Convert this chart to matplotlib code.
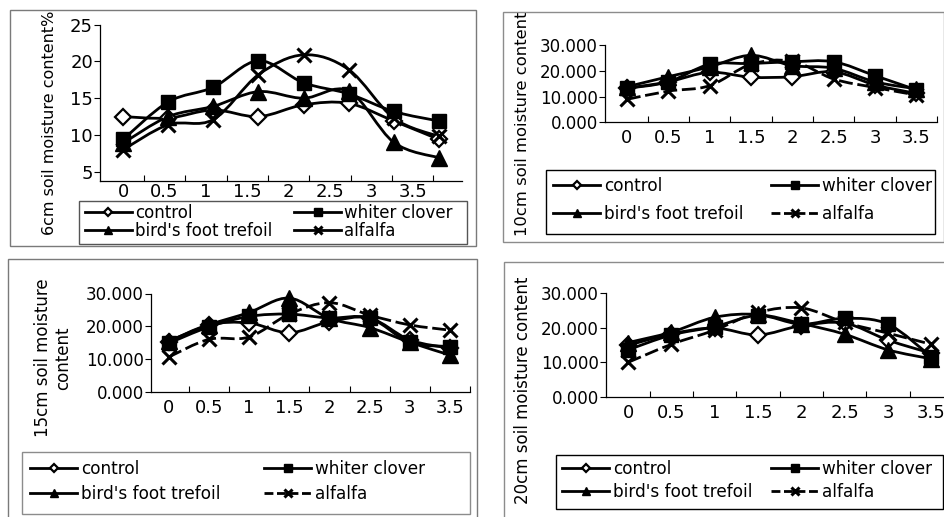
import numpy as np
import matplotlib
matplotlib.use('Agg')
import matplotlib.pyplot as plt
from matplotlib.path import Path
from matplotlib.patches import PathPatch, Rectangle
from matplotlib.lines import Line2D

plt.rcParams['font.family'] = ['DejaVu Sans']

W, H = 945, 517

# ---- data ----
x_labels = ['0', '0.5', '1', '1.5', '2', '2.5', '3', '3.5']
names = ['control', 'whiter clover', "bird's foot trefoil", 'alfalfa']

cm6_control = [12.5, 12.3, 13.4, 12.5, 14.1, 14.3, 11.9, 9.4]
cm6_clover = [9.4, 14.5, 16.5, 20.1, 17.1, 15.6, 13.2, 11.9]
cm6_trefoil = [8.9, 12.5, 13.9, 15.9, 15.0, 16.0, 9.0, 6.9]
cm6_alfalfa = [8.0, 11.4, 12.1, 18.2, 20.9, 18.9, 12.3, 9.8]

cm10_control = [13.2, 15.7, 19.4, 17.5, 17.7, 19.6, 14.5, 11.2]
cm10_clover = [13.2, 15.7, 22.5, 22.8, 23.5, 23.5, 18.1, 12.6]
cm10_trefoil = [13.8, 17.7, 21.5, 26.0, 22.0, 21.0, 15.7, 13.0]
cm10_alfalfa = [8.9, 12.1, 14.2, 22.5, 23.7, 16.8, 13.5, 10.6]

cm15_control = [15.3, 20.4, 21.0, 18.0, 21.4, 22.5, 15.8, 13.3]
cm15_clover = [14.8, 19.8, 23.0, 23.7, 22.5, 22.5, 15.1, 13.8]
cm15_trefoil = [15.5, 20.4, 24.2, 28.6, 22.4, 19.6, 15.1, 11.2]
cm15_alfalfa = [10.6, 16.0, 16.7, 23.7, 27.2, 23.4, 20.4, 18.8]

cm20_control = [14.9, 18.2, 19.9, 17.9, 20.6, 21.3, 16.4, 12.6]
cm20_clover = [13.6, 17.9, 20.3, 23.5, 21.0, 22.7, 21.0, 11.6]
cm20_trefoil = [15.7, 18.7, 23.0, 23.8, 21.2, 18.1, 13.6, 11.0]
cm20_alfalfa = [10.0, 15.2, 19.3, 24.4, 25.7, 21.5, 18.4, 15.2]


def fx(px):
    return px / W


def fy(py):
    return 1 - py / H


def frect(x0, y0, x1, y1):
    return [fx(x0), fy(y1), (x1 - x0) / W, (y1 - y0) / H]


def box(x0, y0, x1, y1, ec):
    fig.add_artist(Rectangle((fx(x0), fy(y1)), (x1 - x0) / W, (y1 - y0) / H,
                             transform=fig.transFigure, fill=False,
                             edgecolor=ec, linewidth=1.0, zorder=20))


def smooth_path(xs, ys):
    # excel style smoothed line: catmull-rom turned into bezier segments
    n = len(xs)
    verts = [(xs[0], ys[0])]
    codes = [Path.MOVETO]
    for i in range(n - 1):
        a = max(i - 1, 0)
        b = min(i + 2, n - 1)
        c1 = (xs[i] + (xs[i + 1] - xs[a]) / 6, ys[i] + (ys[i + 1] - ys[a]) / 6)
        c2 = (xs[i + 1] - (xs[b] - xs[i]) / 6, ys[i + 1] - (ys[b] - ys[i]) / 6)
        verts += [c1, c2, (xs[i + 1], ys[i + 1])]
        codes += [Path.CURVE4] * 3
    return Path(verts, codes)


marker_styles = [
    dict(marker='D', markerfacecolor='white', markeredgecolor='black', markersize=8, markeredgewidth=1.6),
    dict(marker='s', markerfacecolor='black', markeredgecolor='black', markersize=10),
    dict(marker='^', markerfacecolor='black', markeredgecolor='black', markersize=11),
    dict(marker='x', markeredgecolor='black', markersize=10, markeredgewidth=2.2),
]

fig = plt.figure(figsize=(W / 100, H / 100), dpi=100)


def panel(series, rect, ylim, yticks, yfmt, xlim, xscale, dashed, ytick_fs, xpad,
          ylabel, ylab_fs, ylab_xy, leg_x, leg_rows, leg_fs, leg_frame, leg_ec,
          outer_box, outer_ec):
    box(*outer_box, outer_ec)
    ax = fig.add_axes(rect)
    ax.set_facecolor('none')
    idx = np.arange(len(x_labels))
    xs = idx * xscale
    lw = 2.0
    alf_ls = (0, (5, 1.7)) if dashed else '-'
    handles = []
    for k, ys in enumerate(series):
        ls = alf_ls if k == 3 else '-'
        ax.add_patch(PathPatch(smooth_path(xs, ys), fill=False, edgecolor='black',
                               linewidth=lw, linestyle=ls, zorder=2 + k))
        ax.plot(xs, ys, linestyle='none', zorder=6 + k, clip_on=False, **marker_styles[k])
        hls = (0, (3.2, 1.3)) if (k == 3 and dashed) else '-'
        handles.append(Line2D([], [], color='black', linewidth=lw, linestyle=hls, **marker_styles[k]))

    ax.set_xlim(*xlim)
    ax.set_ylim(*ylim)
    ax.set_yticks(yticks)
    ax.set_yticklabels([yfmt.format(v) for v in yticks])
    ax.set_xticks(idx)
    ax.set_xticklabels(x_labels)
    ax.set_xticks(idx + 0.5, minor=True)
    ax.tick_params(axis='x', which='major', length=0, pad=xpad, labelsize=13)
    ax.tick_params(axis='x', which='minor', direction='in', length=4, width=0.8)
    ax.tick_params(axis='y', direction='out', length=4, width=0.8, pad=1, labelsize=ytick_fs)
    for s in ['top', 'right']:
        ax.spines[s].set_visible(False)
    for s in ['left', 'bottom']:
        ax.spines[s].set_linewidth(0.9)

    fig.text(fx(ylab_xy[0]), fy(ylab_xy[1]), ylabel, rotation=90, ha='center',
             va='center', fontsize=ylab_fs, multialignment='center', linespacing=1.15)

    # legend: frame drawn on its own, entries spread between leg_x[0] and leg_x[1]
    box(*leg_frame, leg_ec)
    r0, r1 = leg_rows
    fs_px = leg_fs * 100 / 72
    text_h = 1.17 * fs_px
    spacing = max((r1 - r0) - text_h, 0) / fs_px
    yc = (r0 + r1) / 2
    hh = (r1 - r0) + text_h
    order = [0, 2, 1, 3]
    ax.legend([handles[i] for i in order], [names[i] for i in order], ncol=2,
              mode='expand', loc='center',
              bbox_to_anchor=(fx(leg_x[0]), fy(yc + hh / 2), (leg_x[1] - leg_x[0]) / W, hh / H),
              bbox_transform=fig.transFigure, frameon=False, borderaxespad=0,
              borderpad=0, markerscale=0.55, fontsize=leg_fs, handlelength=2.8,
              handletextpad=0.2, labelspacing=spacing)
    return ax


# 6 cm
panel([cm6_control, cm6_clover, cm6_trefoil, cm6_alfalfa],
      frect(100, 24.7, 462, 180.7), (3.78, 25), [5, 10, 15, 20, 25], '{:d}',
      (-0.56, 8.19), 1.09, False, 13, 1.5,
      '6cm soil moisture content%', 11.5, (50, 123),
      (85, 453), (212, 232), 12, (79, 201, 467, 244), '#555555',
      (10, 10, 476, 246), '#7a7a7a')

# 10 cm
panel([cm10_control, cm10_clover, cm10_trefoil, cm10_alfalfa],
      frect(605, 45, 937, 122.3), (0, 30), [0, 10, 20, 30], '{:.3f}',
      (-0.53, 7.45), 1.0, True, 12, 5,
      '10cm soil moisture content', 11.8, (523, 124),
      (553, 932), (185, 215), 12.2, (546, 170, 935, 234), 'black',
      (503, 12, 944, 242), '#8c8c8c')

# 15 cm
panel([cm15_control, cm15_clover, cm15_trefoil, cm15_alfalfa],
      frect(150.7, 293.5, 470, 391.7), (0, 30), [0, 10, 20, 30], '{:.3f}',
      (-0.45, 7.45), 1.0, True, 12, 5,
      '15cm soil moisture\ncontent', 12, (53, 358),
      (30, 425), (468, 495), 12.2, (22, 452, 470, 514), '#8c8c8c',
      (8, 259, 477, 530), '#7a7a7a')

# 20 cm
panel([cm20_control, cm20_clover, cm20_trefoil, cm20_alfalfa],
      frect(606, 293, 953, 397), (0, 30), [0, 10, 20, 30], '{:.3f}',
      (-0.51, 7.5), 1.0, True, 12, 5,
      '20cm soil moisture content', 12, (523, 390),
      (562, 932), (468, 493), 12.2, (556, 455, 943, 509), 'black',
      (504, 262, 960, 530), '#8c8c8c')

fig.savefig('out.png', dpi=100)
